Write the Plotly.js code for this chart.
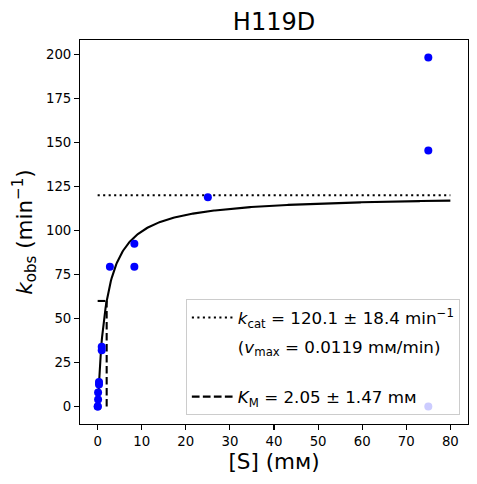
<!DOCTYPE html>
<html>
<head>
<meta charset="utf-8">
<script src="https://cdn.plot.ly/plotly-3.0.1.min.js"></script>
<style>html,body{margin:0;padding:0;background:#fff;}#chart{width:477px;height:484px;}</style>
</head>
<body>
<div id="chart"></div>
<script>
// Measured data: substrate concentration [S] (mM) and observed rate k_obs (min^-1)
const substrate = [0.011, 0.034, 0.103, 0.103, 0.309, 0.309, 0.926, 0.926, 2.78, 8.33, 8.33, 25, 75, 75, 75];
const kobs      = [0,     0,     4,     8,     12.5,  14,    32,    34,    79.5, 79.5, 92.5, 119, 198.5, 145.6, 0];

// Michaelis-Menten fit parameters
const kcat = 120.1;
const kcatErr = 18.4;
const KM = 2.05;
const KMErr = 1.47;
const vmax = 0.0119;
const fitRange = [0, 80];

// fitted model curve
const curveX = [], curveY = [];
const nCurve = 400;
for (let i = 0; i <= nCurve; i++) {
  const s = fitRange[0] + (fitRange[1] - fitRange[0]) * i / nCurve;
  curveX.push(s);
  curveY.push(kcat * s / (KM + s));
}

const FONT = 'DejaVu Sans, sans-serif';
const mM = 'm\u1D0D';

const traces = [
  { x: curveX, y: curveY, mode: 'lines', line: {color: '#000', width: 2.08}, showlegend: false, hoverinfo: 'skip' },
  { x: fitRange, y: [kcat, kcat], mode: 'lines', line: {color: '#000', width: 2.08, dash: '2.1px,3.4px'},
    name: '<i>k</i><sub>cat</sub> = ' + kcat.toFixed(1) + ' ± ' + kcatErr.toFixed(1) + ' min<sup>−1</sup>', legendgroup: 'a' },
  { x: [null], y: [null], mode: 'lines', line: {color: 'rgba(0,0,0,0)', width: 0},
    name: '(<i>v</i><sub>max</sub> = ' + vmax.toFixed(4) + ' ' + mM + '/min)<br> ', legendgroup: 'b' },
  { x: [KM, KM, null, 0, KM], y: [0, kcat / 2, null, kcat / 2, kcat / 2], mode: 'lines',
    line: {color: '#000', width: 2.08, dash: '7.7px,3.3px'},
    name: '<i>K</i><sub>M</sub> = ' + KM.toFixed(2) + ' ± ' + KMErr.toFixed(2) + ' ' + mM, legendgroup: 'c' },
  { x: substrate, y: kobs, mode: 'markers', marker: {color: '#0000ff', size: 8}, showlegend: false }
];

const axisCommon = {
  showline: true, mirror: true, linecolor: '#000', linewidth: 1.1,
  ticks: 'outside', ticklen: 4.9, tickwidth: 1.1, tickcolor: '#000',
  showgrid: false, zeroline: false,
  tickfont: {family: FONT, size: 13.3, color: '#000'}
};

const layout = {
  width: 477, height: 484,
  margin: {l: 80, r: 9, t: 40, b: 60},
  paper_bgcolor: '#fff', plot_bgcolor: '#fff',
  font: {family: FONT, color: '#000'},
  title: {text: 'H119D', font: {family: FONT, size: 24, color: '#000'},
          x: 0.5, xref: 'paper', xanchor: 'center', y: 1 - 22 / 484, yanchor: 'middle'},
  xaxis: Object.assign({}, axisCommon, {
    range: [-4, 84], tickvals: [0, 10, 20, 30, 40, 50, 60, 70, 80],
    title: {text: '[S] (' + mM + ')', font: {family: FONT, size: 21.5, color: '#000'}, standoff: 5}
  }),
  yaxis: Object.assign({}, axisCommon, {
    range: [-9.9, 208.4], tickvals: [0, 25, 50, 75, 100, 125, 150, 175, 200],
    title: {text: '<i>k</i><sub>obs</sub> (min<sup>−1</sup>)', font: {family: FONT, size: 21.5, color: '#000'}, standoff: 7}
  }),
  legend: {
    x: 0.979, xanchor: 'right', y: 0.023, yanchor: 'bottom',
    bgcolor: 'rgba(255,255,255,0.8)', bordercolor: '#cccccc', borderwidth: 1,
    font: {family: FONT, size: 16.7, color: '#000'},
    traceorder: 'grouped', tracegroupgap: 4, itemwidth: 41, valign: 'top'
  },
  showlegend: true
};

Plotly.newPlot('chart', traces, layout, {displayModeBar: false, staticPlot: true});
</script>
</body>
</html>
